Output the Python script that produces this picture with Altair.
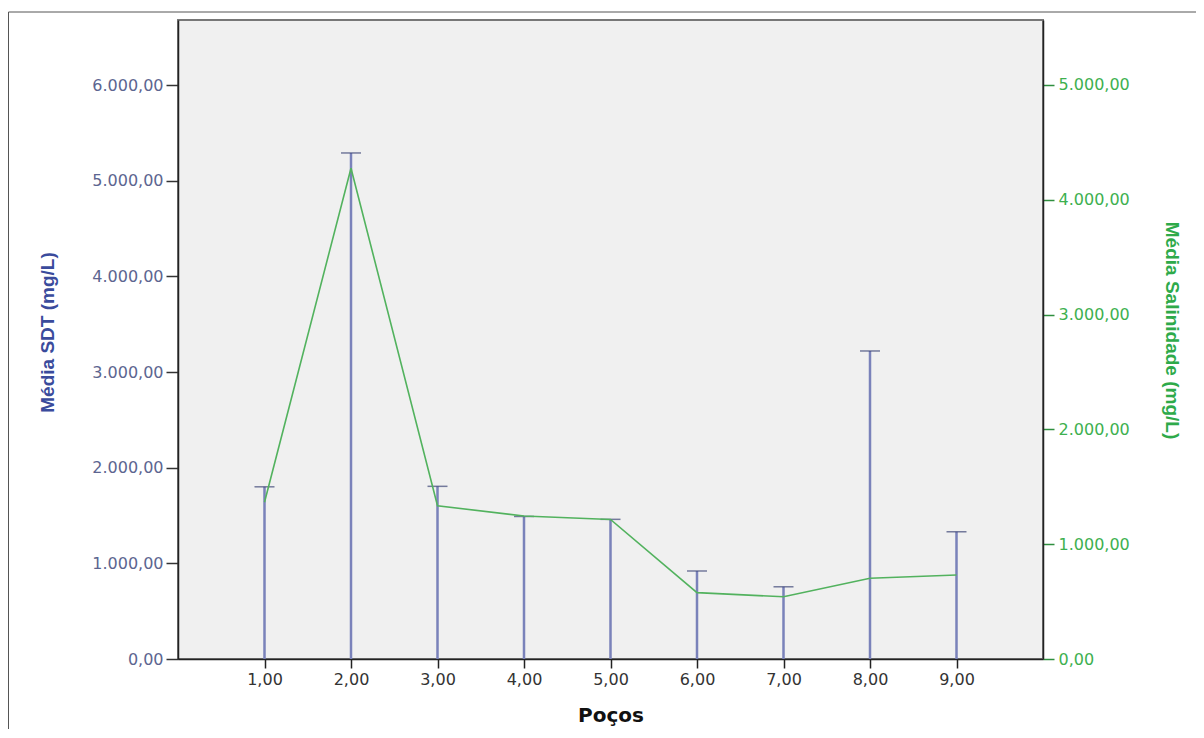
import altair as alt
import pandas as pd

# ---- data ----
wells = [1, 2, 3, 4, 5, 6, 7, 8, 9]
sdt_mean = [1800, 5290, 1805, 1490, 1460, 920, 755, 3220, 1330]   # Média SDT (mg/L), left axis
sal_mean = [1365, 4275, 1335, 1245, 1215, 578, 542, 703, 732]     # Média Salinidade (mg/L), right axis
x_ticks = [1, 2, 3, 4, 5, 6, 7, 8, 9]
left_ticks = [0, 1000, 2000, 3000, 4000, 5000, 6000]
right_ticks = [0, 1000, 2000, 3000, 4000, 5000]
left_domain = [0, 6680]
right_domain = [0, 5566]
x_domain = [0, 10]
title_text = "Cacaú."
x_title = "Poços"
left_title = "Média SDT (mg/L)"
right_title = "Média Salinidade (mg/L)"

df = pd.DataFrame({"poco": wells, "sdt": sdt_mean, "sal": sal_mean,
                   "zero": [0] * len(wells)})

W, H = 865, 639
PAD = {"left": 170, "top": 12, "right": 153, "bottom": 70}

fmt = ("replace(replace(replace(format(datum.value, ',.2f'), ',', '#'), "
       "'.', ','), '#', '.')")

x_scale = alt.Scale(domain=x_domain, nice=False, zero=False)
x_axis = alt.Axis(values=x_ticks, title=x_title, labelExpr=fmt, grid=False,
                  labelFont="DejaVu Sans", labelFontSize=16, labelColor="#333333",
                  tickColor="#222222", tickSize=9, tickWidth=1.5, labelPadding=3,
                  domainColor="#222222", domainWidth=1.5,
                  titleFont="DejaVu Sans", titleFontSize=20, titleFontWeight="bold",
                  titleColor="#111111", titleY=56, titleX=W / 2,
                  titleBaseline="middle", titleAlign="center")

left_scale = alt.Scale(domain=left_domain, nice=False, zero=True)
left_axis = alt.Axis(values=left_ticks, title=left_title, labelExpr=fmt, grid=False,
                     orient="left",
                     labelFont="DejaVu Sans", labelFontSize=16, labelColor="#5c6590",
                     tickColor="#333333", tickSize=12, tickWidth=1.5, labelPadding=3,
                     domainColor="#222222", domainWidth=1.5,
                     titleFont="Liberation Sans", titleFontSize=19, titleFontWeight="bold",
                     titleColor="#3a4b9c", titleAngle=-90, titleX=-131, titleY=312,
                     titleBaseline="middle", titleAlign="center")

right_scale = alt.Scale(domain=right_domain, nice=False, zero=True)
right_axis = alt.Axis(values=right_ticks, title=right_title, labelExpr=fmt, grid=False,
                      orient="right",
                      labelFont="DejaVu Sans", labelFontSize=16, labelColor="#3db04f",
                      tickColor="#2f8f3f", tickSize=11, tickWidth=1.5, labelPadding=4,
                      domainColor="#222222", domainWidth=1.5,
                      titleFont="Liberation Sans", titleFontSize=19, titleFontWeight="bold",
                      titleColor="#2eaa4a", titleAngle=90, titleX=128, titleY=310,
                      titleBaseline="middle", titleAlign="center")

one = pd.DataFrame({"t": [title_text]})

frame = alt.Chart(one).mark_rect(fillOpacity=0, stroke="#555555", strokeWidth=1).encode(
    x=alt.value(-169.5), x2=alt.value(1030), y=alt.value(-8), y2=alt.value(730))

title = alt.Chart(one).mark_text(font="Liberation Sans", fontSize=17, color="#111111",
                                 baseline="bottom", align="center").encode(
    text="t:N", x=alt.value(432), y=alt.value(-8))

bars = alt.Chart(df).mark_rule(color="#7a82ba", strokeWidth=2.5).encode(
    x=alt.X("poco:Q", scale=x_scale, axis=x_axis),
    y=alt.Y("sdt:Q", scale=left_scale, axis=left_axis),
    y2="zero:Q")

caps = alt.Chart(df).mark_tick(color="#3e4778", thickness=1.5, size=20,
                               orient="horizontal").encode(
    x=alt.X("poco:Q", scale=x_scale, axis=x_axis),
    y=alt.Y("sdt:Q", scale=left_scale, axis=left_axis))

line = alt.Chart(df).mark_line(color="#52b25e", strokeWidth=1.6).encode(
    x=alt.X("poco:Q", scale=x_scale, axis=x_axis),
    y=alt.Y("sal:Q", scale=right_scale, axis=right_axis))

inner = alt.layer(bars, caps, frame, title)

chart = alt.layer(inner, line).resolve_scale(y="independent").properties(
    width=W, height=H, padding=PAD,
    autosize=alt.AutoSizeParams(type="none")
).configure_view(fill="#f0f0f0", stroke="#777777", strokeWidth=2)

chart.save("out.html", embed_options={"renderer": "svg", "actions": False})
